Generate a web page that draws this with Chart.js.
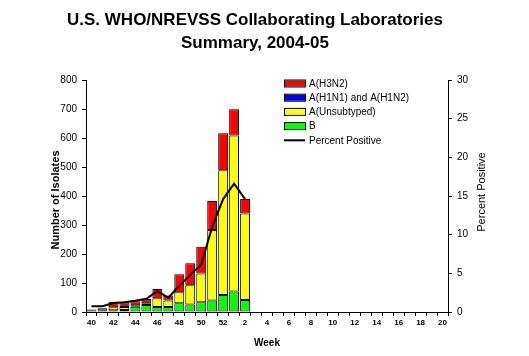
<!DOCTYPE html>
<html>
<head>
<meta charset="utf-8">
<script src="https://cdn.jsdelivr.net/npm/chart.js@4"></script>
<style>
  body { margin: 0; background: #fff; }
  canvas { display: block; }
</style>
</head>
<body>
<canvas id="fluChart" width="529" height="356"></canvas>
<script>
const weeks = ["40","41","42","43","44","45","46","47","48","49","50","51","52",
  "1","2","3","4","5","6","7","8","9","10","11","12","13","14","15","16","17","18","19","20"];

const h3n2 =        [5, 9, 19, 16, 14, 15, 32, 17, 62, 76, 92, 100, 127, 90, 50];
const h1 =          [0, 0, 0, 0, 0, 0, 0, 0, 0, 0, 0, 0, 0, 0, 0];
const unsubtyped =  [2, 2, 10, 10, 5, 6, 30, 23, 38, 66, 99, 243, 430, 538, 299];
const bTotals =     [2, 2, 6, 7, 18, 24, 17, 17, 30, 26, 34, 40, 59, 71, 41];
const pctPositive = [0.75, 0.75, 1.15, 1.25, 1.45, 1.7, 2.7, 1.85, 3.4, 4.8, 6.1, 11.0, 14.6, 16.6, 14.6];

const leftTicks = [0, 100, 200, 300, 400, 500, 600, 700, 800];
const rightTicks = [0, 5, 10, 15, 20, 25, 30];

const FONT = "'Liberation Sans', Arial, sans-serif";

const textPlugin = {
  id: "textPlugin",
  afterDraw(chart) {
    const c = chart.ctx;
    c.save();
    c.fillStyle = "#000";
    c.textAlign = "center";
    c.textBaseline = "middle";
    c.font = "bold 17px " + FONT;
    c.fillText("U.S. WHO/NREVSS Collaborating Laboratories", 255, 20);
    c.fillText("Summary, 2004-05", 255, 43);

    c.font = "bold 10px " + FONT;
    c.fillText("Week", 267, 343);

    c.save();
    c.translate(56, 200);
    c.rotate(-Math.PI / 2);
    c.font = "bold 11px " + FONT;
    c.fillText("Number of Isolates", 0, 0);
    c.restore();

    c.save();
    c.translate(482, 192);
    c.rotate(-Math.PI / 2);
    c.font = "11px " + FONT;
    c.fillText("Percent Positive", 0, 0);
    c.restore();

    // legend
    const items = [
      { label: "A(H3N2)", color: "#ff0000" },
      { label: "A(H1N1) and A(H1N2)", color: "#0000ff" },
      { label: "A(Unsubtyped)", color: "#ffff00" },
      { label: "B", color: "#00ff00" },
      { label: "Percent Positive", line: true }
    ];
    c.font = "10px " + FONT;
    c.textAlign = "left";
    items.forEach((it, i) => {
      const y = 83.5 + i * 14.2;
      if (it.line) {
        c.strokeStyle = "#000";
        c.lineWidth = 2;
        c.beginPath();
        c.moveTo(284, y);
        c.lineTo(305, y);
        c.stroke();
      } else {
        c.fillStyle = it.color;
        c.fillRect(284, y - 3, 21, 6);
        c.strokeStyle = "#000";
        c.lineWidth = 1;
        c.strokeRect(284.5, y - 3.5, 21, 7);
      }
      c.fillStyle = "#000";
      c.fillText(it.label, 309, y + 0.5);
    });
    c.restore();
  }
};

const barCommon = {
  type: "bar",
  borderColor: "#000",
  borderWidth: 1,
  borderSkipped: false,
  categoryPercentage: 0.9,
  barPercentage: 1,
  yAxisID: "y",
  stack: "flu",
  order: 1
};

new Chart(document.getElementById("fluChart"), {
  type: "bar",
  data: {
    labels: weeks,
    datasets: [
      { ...barCommon, label: "B", data: bTotals, backgroundColor: "#00ff00" },
      { ...barCommon, label: "A(Unsubtyped)", data: unsubtyped, backgroundColor: "#ffff00" },
      { ...barCommon, label: "A(H1N1) and A(H1N2)", data: h1, backgroundColor: "#0000ff", borderWidth: 0 },
      { ...barCommon, label: "A(H3N2)", data: h3n2, backgroundColor: "#ff0000" },
      {
        type: "line",
        label: "Percent Positive",
        data: pctPositive,
        borderColor: "#000",
        borderWidth: 2,
        pointRadius: 0,
        tension: 0,
        yAxisID: "y1",
        order: 0
      }
    ]
  },
  options: {
    responsive: false,
    animation: false,
    devicePixelRatio: 1,
    layout: { padding: { top: 80, left: 0, right: 0, bottom: 0 } },
    plugins: {
      legend: { display: false },
      title: { display: false },
      tooltip: { enabled: false }
    },
    scales: {
      x: {
        stacked: true,
        grid: { display: true, drawOnChartArea: false, tickLength: 4, tickColor: "#000", offset: true },
        border: { color: "#000", width: 1 },
        ticks: {
          autoSkip: false,
          maxRotation: 0,
          padding: 2,
          color: "#000",
          font: { family: FONT, size: 8, weight: "bold" },
          callback: function (v) {
            const w = parseInt(weeks[v], 10);
            return w % 2 === 0 ? weeks[v] : "";
          }
        },
        afterFit(scale) { scale.height = 44; }
      },
      y: {
        stacked: true,
        position: "left",
        min: 0,
        max: 800,
        afterBuildTicks(scale) { scale.ticks = leftTicks.map(v => ({ value: v })); },
        grid: { display: true, drawOnChartArea: false, tickLength: 4, tickColor: "#000" },
        border: { color: "#000", width: 1 },
        ticks: { padding: 5, color: "#000", font: { family: FONT, size: 10 } },
        afterFit(scale) { scale.width = 86; }
      },
      y1: {
        position: "right",
        min: 0,
        max: 30,
        afterBuildTicks(scale) { scale.ticks = rightTicks.map(v => ({ value: v })); },
        grid: { display: true, drawOnChartArea: false, tickLength: 4, tickColor: "#000" },
        border: { color: "#000", width: 1 },
        ticks: { padding: 5, color: "#000", font: { family: FONT, size: 10 } },
        afterFit(scale) { scale.width = 81; }
      }
    }
  },
  plugins: [textPlugin]
});
</script>
</body>
</html>
